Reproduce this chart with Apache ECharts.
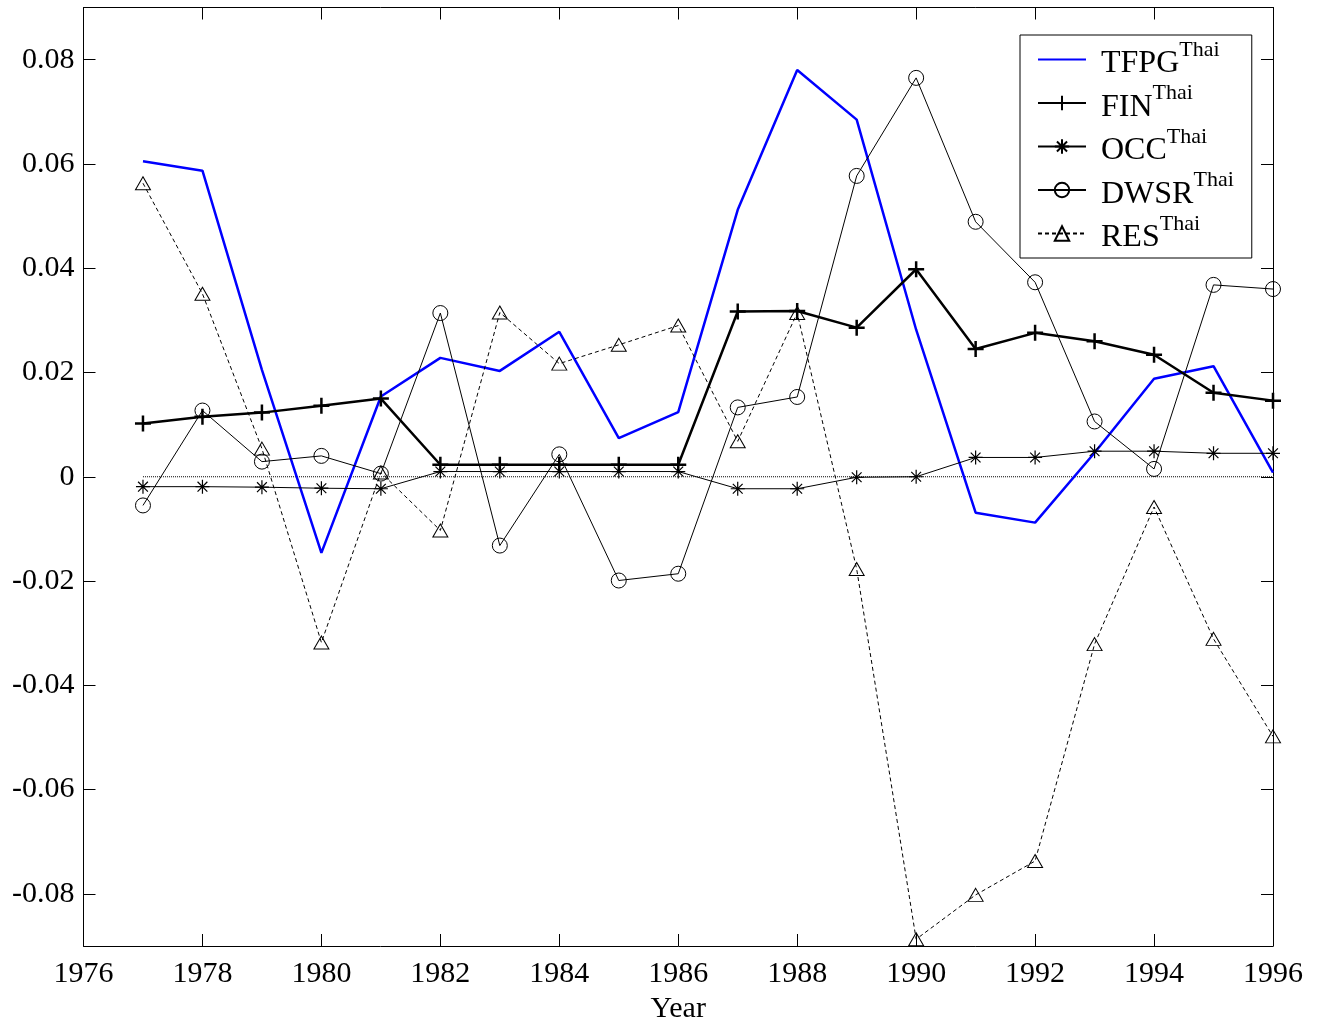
<!DOCTYPE html>
<html>
<head>
<meta charset="utf-8">
<script src="https://cdn.jsdelivr.net/npm/echarts@6.0.0/dist/echarts.min.js"></script>
<style>
  html, body { margin: 0; padding: 0; background: #fff; }
  #chart { width: 1320px; height: 1022px; }
</style>
</head>
<body>
<div id="chart"></div>
<script>
const years = [1977, 1978, 1979, 1980, 1981, 1982, 1983, 1984, 1985, 1986,
  1987, 1988, 1989, 1990, 1991, 1992, 1993, 1994, 1995, 1996]
const tfpg = [0.0605, 0.0587, 0.0205, -0.0146, 0.0154, 0.0228, 0.0203, 0.0278, 0.0074, 0.0124,
  0.0512, 0.0780, 0.0685, 0.0282, -0.0069, -0.0088, 0.0046, 0.0188, 0.0212, 0.0008]
const fin = [0.0102, 0.0115, 0.0123, 0.0136, 0.0150, 0.0023, 0.0023, 0.0023, 0.0023, 0.0023,
  0.0317, 0.0318, 0.0286, 0.0398, 0.0245, 0.0276, 0.0260, 0.0234, 0.0161, 0.0146]
const occ = [-0.0019, -0.0019, -0.0020, -0.0022, -0.0023, 0.0010, 0.0010, 0.0010, 0.0010, 0.0010,
  -0.0023, -0.0023, -0.0001, 0.0000, 0.0037, 0.0037, 0.0049, 0.0049, 0.0045, 0.0045]
const dwsr = [-0.0055, 0.0127, 0.0029, 0.0040, 0.0006, 0.0314, -0.0132, 0.0043, -0.0199, -0.0186,
  0.0133, 0.0153, 0.0577, 0.0765, 0.0489, 0.0373, 0.0106, 0.0015, 0.0368, 0.0360]
const res = [0.0563, 0.0351, 0.0054, -0.0318, 0.0008, -0.0103, 0.0315, 0.0217, 0.0253, 0.0290,
  0.0068, 0.0314, -0.0177, -0.0887, -0.0802, -0.0737, -0.0321, -0.0058, -0.0311, -0.0498]
const zero = [0, 0, 0, 0, 0, 0, 0, 0, 0, 0, 0, 0, 0, 0, 0, 0, 0, 0, 0, 0]
const yTicks = [-0.08, -0.06, -0.04, -0.02, 0, 0.02, 0.04, 0.06, 0.08]

const font = 'Liberation Serif'
const plus = 'path://M0,5L10,5M5,0L5,10'
const star = 'path://M5,0L5,10M0,5L10,5M1.5,1.5L8.5,8.5M8.5,1.5L1.5,8.5'

function pairs (values) {
  return years.map((y, i) => [y, values[i]])
}

const frameLine = { onZero: false, lineStyle: { color: '#000', width: 1 } }
const inTick = { inside: true, length: 12, lineStyle: { color: '#000' } }

const chart = echarts.init(document.getElementById('chart'))
chart.setOption({
  animation: false,
  backgroundColor: '#fff',
  textStyle: { fontFamily: font, color: '#000' },
  grid: { left: 83.5, right: 47, top: 7.5, bottom: 76, outerBoundsMode: 'none' },
  legend: {
    data: ['TFPG', 'FIN', 'OCC', 'DWSR', 'RES'],
    orient: 'vertical',
    left: 1020,
    top: 35,
    padding: [4, 18, 4, 17],
    itemGap: 2.5,
    itemWidth: 48,
    itemHeight: 18,
    backgroundColor: '#fff',
    borderColor: '#000',
    borderWidth: 1,
    formatter: function (name) {
      return '{m|' + name + '}{s|Thai}'
    },
    textStyle: {
      fontFamily: font,
      color: '#000',
      rich: {
        m: { fontFamily: font, fontSize: 32, lineHeight: 41, verticalAlign: 'bottom', color: '#000', padding: [0, 0, 0, 10] },
        s: { fontFamily: font, fontSize: 22, verticalAlign: 'top', color: '#000' }
      }
    }
  },
  xAxis: [{
    type: 'value',
    min: 1976,
    max: 1996,
    interval: 2,
    name: 'Year',
    nameLocation: 'middle',
    nameGap: 37,
    nameTextStyle: { fontFamily: font, fontSize: 30, color: '#000' },
    axisLine: frameLine,
    axisTick: inTick,
    axisLabel: {
      fontFamily: font,
      fontSize: 30,
      color: '#000',
      margin: 13,
      formatter: function (v) { return String(v) }
    },
    splitLine: { show: false }
  }, {
    type: 'value',
    position: 'top',
    min: 1976,
    max: 1996,
    interval: 2,
    axisLine: frameLine,
    axisTick: inTick,
    axisLabel: { show: false },
    splitLine: { show: false }
  }],
  yAxis: [{
    type: 'value',
    min: -0.09,
    max: 0.09,
    axisLine: Object.assign({ show: true }, frameLine),
    axisTick: Object.assign({ show: true, customValues: yTicks }, inTick),
    axisLabel: { fontFamily: font, fontSize: 30, color: '#000', margin: 9, customValues: yTicks },
    splitLine: { show: false }
  }, {
    type: 'value',
    position: 'right',
    min: -0.09,
    max: 0.09,
    axisLine: Object.assign({ show: true }, frameLine),
    axisTick: Object.assign({ show: true, customValues: yTicks }, inTick),
    axisLabel: { show: false, customValues: yTicks },
    splitLine: { show: false }
  }],
  series: [{
    name: 'zero',
    type: 'line',
    data: pairs(zero),
    symbol: 'none',
    silent: true,
    lineStyle: { color: '#000', width: 1, type: 'dotted' }
  }, {
    name: 'TFPG',
    type: 'line',
    data: pairs(tfpg),
    symbol: 'circle',
    showSymbol: false,
    itemStyle: { color: 'transparent', borderWidth: 0 },
    lineStyle: { color: '#0000ff', width: 2.5 }
  }, {
    name: 'FIN',
    type: 'line',
    data: pairs(fin),
    symbol: plus,
    symbolSize: 16,
    itemStyle: { color: '#000', borderColor: '#000', borderWidth: 2.5 },
    lineStyle: { color: '#000', width: 2.5 }
  }, {
    name: 'OCC',
    type: 'line',
    data: pairs(occ),
    symbol: star,
    symbolSize: 14,
    itemStyle: { color: '#000', borderColor: '#000', borderWidth: 1.2 },
    lineStyle: { color: '#000', width: 1 }
  }, {
    name: 'DWSR',
    type: 'line',
    data: pairs(dwsr),
    symbol: 'circle',
    symbolSize: 15,
    itemStyle: { color: 'transparent', borderColor: '#000', borderWidth: 1 },
    lineStyle: { color: '#000', width: 1 }
  }, {
    name: 'RES',
    type: 'line',
    data: pairs(res),
    symbol: 'triangle',
    symbolSize: [15, 13],
    itemStyle: { color: 'transparent', borderColor: '#000', borderWidth: 1 },
    lineStyle: { color: '#000', width: 1, type: [4, 3] }
  }]
})
</script>
</body>
</html>
